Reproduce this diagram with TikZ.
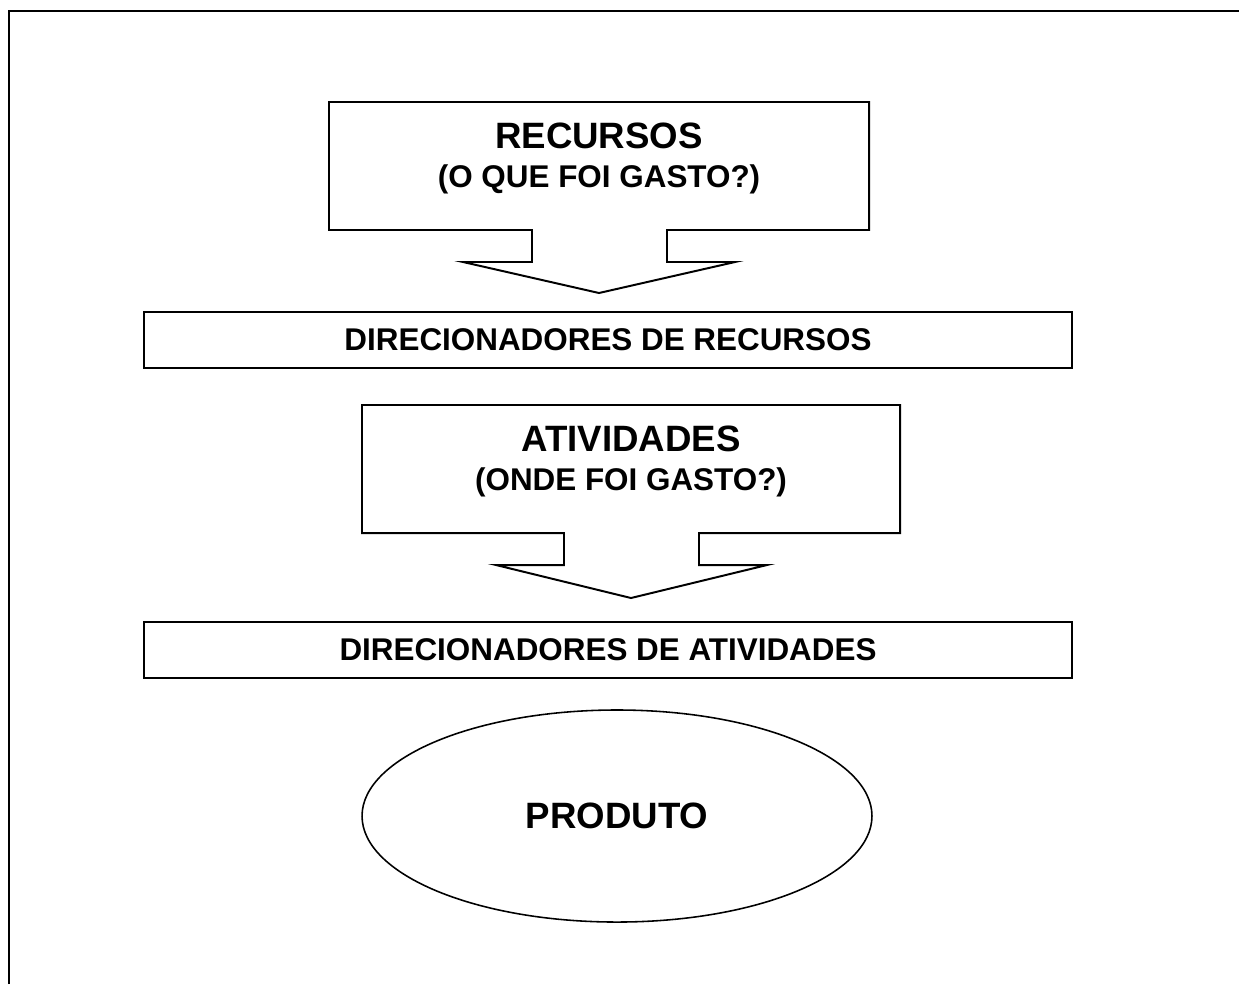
\documentclass[tikz,border=0pt]{standalone}
\usepackage{fontspec}
\setmainfont{Liberation Sans}
\usetikzlibrary{shapes.geometric}

\tikzset{
  titletext/.style={anchor=base, font=\fontsize{14}{16}\selectfont\bfseries},
  subtext/.style={anchor=base, font=\fontsize{12}{14}\selectfont\bfseries},
  driverbar/.style={draw, line width=0.7pt, inner sep=0pt, minimum width=354.5pt,
    minimum height=21.4pt, font=\fontsize{12}{14}\selectfont\bfseries},
}

\begin{document}
\begin{tikzpicture}[x=0.382pt, y=-0.382pt]
    \useasboundingbox (0,0) rectangle (1239,984);
    % frame:
    \draw [line width=0.8pt] (9,984) -- (9,11) -- (1239,11);
    % recursos:
    \draw [line width=0.75pt] (329,102) -- (869,102) -- (869,230) -- (667,230) -- (667,262)
        -- (735,262) -- (599,293) -- (463,262) -- (532,262) -- (532,230) -- (329,230) -- cycle;
    \node [titletext] (recursos) at (599,148) {RECURSOS};
    \node [subtext] (recursosq) at (599,187) {(O QUE FOI GASTO?)};
    \node [driverbar] (dirrec) at (608,340) {DIRECIONADORES DE RECURSOS};
    % atividades:
    \draw [line width=0.75pt] (362,405) -- (900,405) -- (900,533) -- (699,533) -- (699,565)
        -- (767,565) -- (631,598) -- (496,565) -- (564,565) -- (564,533) -- (362,533) -- cycle;
    \node [titletext] (atividades) at (631,451) {ATIVIDADES};
    \node [subtext] (atividadesq) at (631,490) {(ONDE FOI GASTO?)};
    \node [driverbar] (dirativ) at (608,650) {DIRECIONADORES DE ATIVIDADES};
    % produto:
    \node [draw, ellipse, line width=0.6pt, inner sep=0pt, minimum width=194.8pt,
        minimum height=81pt, font=\fontsize{14}{16}\selectfont\bfseries] (produto) at (617,816) {PRODUTO};
\end{tikzpicture}
\end{document}
